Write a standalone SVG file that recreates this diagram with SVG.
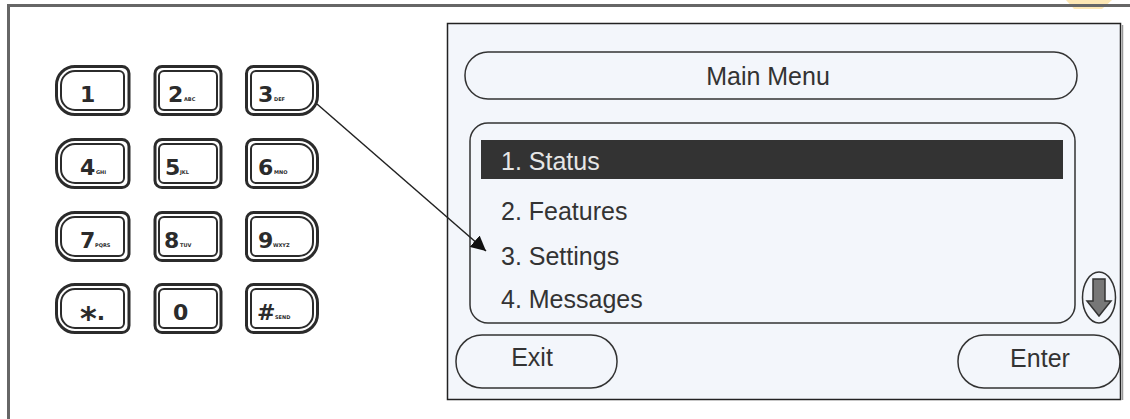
<svg xmlns="http://www.w3.org/2000/svg" width="1130" height="419" viewBox="0 0 1130 419">
<style>
.ko{fill:#fff;stroke:#2b2b2b;stroke-width:3}
.ki{fill:none;stroke:#2b2b2b;stroke-width:2}
.dg{font-family:"DejaVu Sans",sans-serif;font-weight:bold;font-size:22px;fill:#2b2b2b}
.sm{font-family:"DejaVu Sans",sans-serif;font-weight:bold;font-size:5px;fill:#2b2b2b}
.sc{font-family:"Liberation Sans",Arial,sans-serif;font-size:25px;fill:#333}
.pill{fill:none;stroke:#333;stroke-width:1.5}
</style>
<defs>
<path id="kL" d="M20,1.5 H67 A7,7 0 0 1 74,8.5 V42.5 A7,7 0 0 1 67,49.5 H20 A18.5,18.5 0 0 1 1.5,31 V20 A18.5,18.5 0 0 1 20,1.5 Z"/>
<path id="kLi" d="M20,6 H64 A5,5 0 0 1 69,11 V40 A5,5 0 0 1 64,45 H20 A14,14 0 0 1 6,31 V20 A14,14 0 0 1 20,6 Z"/>
<path id="kM" d="M9,1.5 H61 A7,7 0 0 1 68,8.5 V42.5 A7,7 0 0 1 61,49.5 H9 A7,7 0 0 1 2,42.5 V8.5 A7,7 0 0 1 9,1.5 Z"/>
<path id="kMi" d="M11,6 H59 A5,5 0 0 1 64,11 V40 A5,5 0 0 1 59,45 H11 A5,5 0 0 1 6,40 V11 A5,5 0 0 1 11,6 Z"/>
<path id="kR" d="M8.5,1.5 H54 A18.5,18.5 0 0 1 72.5,20 V31 A18.5,18.5 0 0 1 54,49.5 H8.5 A7,7 0 0 1 1.5,42.5 V8.5 A7,7 0 0 1 8.5,1.5 Z"/>
<path id="kRi" d="M11,6 H54 A14,14 0 0 1 68,20 V31 A14,14 0 0 1 54,45 H11 A5,5 0 0 1 6,40 V11 A5,5 0 0 1 11,6 Z"/>
<marker id="ah" viewBox="0 0 10 10" refX="10" refY="5" markerWidth="15" markerHeight="15" markerUnits="userSpaceOnUse" orient="auto">
<path d="M0,0 L10,5 L0,10 Z" fill="#111"/>
</marker>
</defs>

<rect width="1130" height="419" fill="#fff"/>
<path d="M1066,0 H1112 L1102,9 H1074 Z" fill="#fde7b4"/>
<path d="M8.5,419 V5.5 H1130" fill="none" stroke="#666" stroke-width="3"/>

<g id="keypad">
<g id="key1" transform="translate(55,65)"><use href="#kL" class="ko"/><use href="#kLi" class="ki"/><text class="dg" x="25" y="37">1</text></g>
<g id="key2" transform="translate(153,65)"><use href="#kM" class="ko"/><use href="#kMi" class="ki"/><text class="dg" x="15" y="37">2</text><text class="sm" x="31" y="36">ABC</text></g>
<g id="key3" transform="translate(245,65)"><use href="#kR" class="ko"/><use href="#kRi" class="ki"/><text class="dg" x="13" y="37">3</text><text class="sm" x="29" y="36">DEF</text></g>

<g id="key4" transform="translate(55,138)"><use href="#kL" class="ko"/><use href="#kLi" class="ki"/><text class="dg" x="25" y="37">4</text><text class="sm" x="41" y="36">GHI</text></g>
<g id="key5" transform="translate(153,138)"><use href="#kM" class="ko"/><use href="#kMi" class="ki"/><text class="dg" x="12" y="37">5</text><text class="sm" x="27" y="36">JKL</text></g>
<g id="key6" transform="translate(245,138)"><use href="#kR" class="ko"/><use href="#kRi" class="ki"/><text class="dg" x="13" y="37">6</text><text class="sm" x="29" y="36">MNO</text></g>

<g id="key7" transform="translate(55,211)"><use href="#kL" class="ko"/><use href="#kLi" class="ki"/><text class="dg" x="25" y="37">7</text><text class="sm" x="40" y="36">PQRS</text></g>
<g id="key8" transform="translate(153,211)"><use href="#kM" class="ko"/><use href="#kMi" class="ki"/><text class="dg" x="11" y="37">8</text><text class="sm" x="27" y="36">TUV</text></g>
<g id="key9" transform="translate(245,211)"><use href="#kR" class="ko"/><use href="#kRi" class="ki"/><text class="dg" x="13" y="37">9</text><text class="sm" x="28" y="36">WXYZ</text></g>

<g id="keystar" transform="translate(55,283)"><use href="#kL" class="ko"/><use href="#kLi" class="ki"/><text class="dg" x="25" y="46"><tspan font-size="32">*</tspan><tspan y="37">.</tspan></text></g>
<g id="key0" transform="translate(153,283)"><use href="#kM" class="ko"/><use href="#kMi" class="ki"/><text class="dg" x="20" y="37">0</text></g>
<g id="keyhash" transform="translate(245,283)"><use href="#kR" class="ko"/><use href="#kRi" class="ki"/><text class="dg" x="12" y="37">#</text><text class="sm" x="30" y="36">SEND</text></g>
</g>

<g id="screen">
<rect x="447.5" y="23.5" width="673" height="376" fill="#f3f6fb" stroke="#222" stroke-width="1.5"/>
<line x1="1122.5" y1="25" x2="1122.5" y2="400" stroke="#999" stroke-width="1.5"/>
</g>

<g id="title">
<rect x="465" y="52" width="612" height="47" rx="23" class="pill"/>
<text class="sc" x="768" y="85" text-anchor="middle">Main Menu</text>
</g>

<g id="menu">
<rect x="470" y="123" width="605" height="200" rx="18" class="pill"/>
<rect x="481" y="140" width="582" height="39" fill="#333"/>
<text class="sc" x="501" y="170" style="fill:#e6e6e6">1. Status</text>
<text class="sc" x="501" y="220">2. Features</text>
<text class="sc" x="501" y="265">3. Settings</text>
<text class="sc" x="501" y="308">4. Messages</text>
</g>

<g id="scroll">
<ellipse cx="1099" cy="297.5" rx="16.5" ry="25.5" fill="none" stroke="#333" stroke-width="1.5"/>
<path d="M1093,279 H1105 V301 H1111 L1099,316 L1087,301 H1093 Z" fill="#777" stroke="#333" stroke-width="1.5"/>
</g>

<g id="exit">
<rect x="456" y="335" width="161" height="53" rx="26" class="pill"/>
<text class="sc" x="532" y="366" text-anchor="middle">Exit</text>
</g>

<g id="enter">
<rect x="958" y="335" width="162" height="53" rx="26" class="pill"/>
<text class="sc" x="1040" y="367" text-anchor="middle">Enter</text>
</g>

<g id="connectors">
<line x1="317" y1="104" x2="486" y2="251" stroke="#222" stroke-width="1.5" marker-end="url(#ah)"/>
</g>
</svg>
